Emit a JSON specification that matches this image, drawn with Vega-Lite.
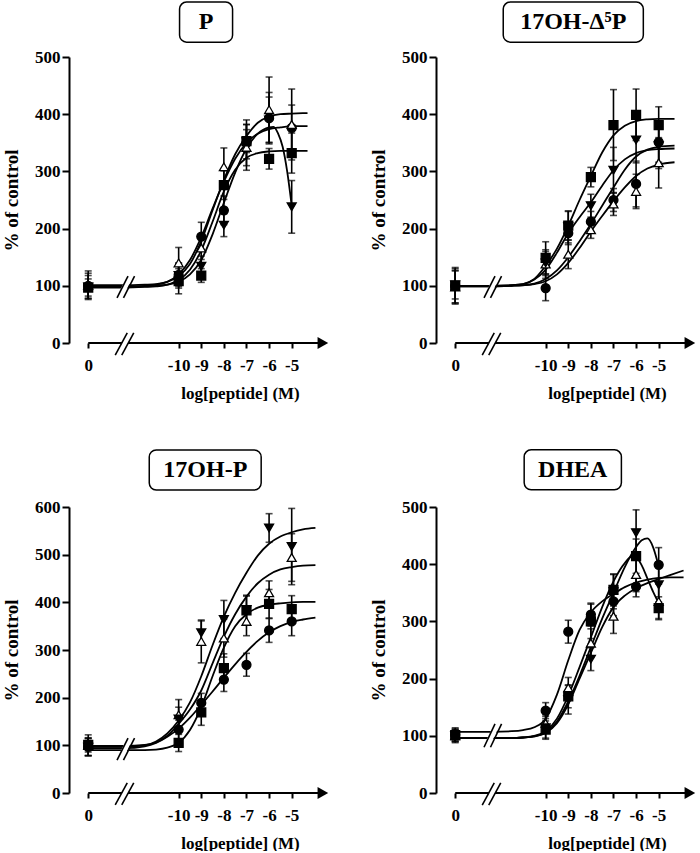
{
"$schema":"https://vega.github.io/schema/vega-lite/v6.json",
"padding":{"left":2,"top":1,"right":0,"bottom":0},
"background":"white",
"datasets":{
"pts":[
{"p":"P","s":"circle","x":-14,"v":100,"e":22},{"p":"P","s":"triangle","x":-14,"v":101,"e":25},{"p":"P","s":"invtri","x":-14,"v":98,"e":20},{"p":"P","s":"square","x":-14,"v":97,"e":15},
{"p":"P","s":"circle","x":-10,"v":119,"e":20},{"p":"P","s":"triangle","x":-10,"v":140,"e":27},{"p":"P","s":"invtri","x":-10,"v":118,"e":22},{"p":"P","s":"square","x":-10,"v":108,"e":22},
{"p":"P","s":"circle","x":-9,"v":186,"e":25},{"p":"P","s":"triangle","x":-9,"v":166,"e":20},{"p":"P","s":"invtri","x":-9,"v":134,"e":18},{"p":"P","s":"square","x":-9,"v":118,"e":12},
{"p":"P","s":"circle","x":-8,"v":232,"e":25},{"p":"P","s":"triangle","x":-8,"v":308,"e":33},{"p":"P","s":"invtri","x":-8,"v":206,"e":20},{"p":"P","s":"square","x":-8,"v":276,"e":25},
{"p":"P","s":"circle","x":-7,"v":350,"e":40},{"p":"P","s":"triangle","x":-7,"v":342,"e":40},{"p":"P","s":"invtri","x":-7,"v":352,"e":30},{"p":"P","s":"square","x":-7,"v":353,"e":20},
{"p":"P","s":"circle","x":-6,"v":393,"e":45},{"p":"P","s":"triangle","x":-6,"v":408,"e":57},{"p":"P","s":"invtri","x":-6,"v":390,"e":40},{"p":"P","s":"square","x":-6,"v":322,"e":18},
{"p":"P","s":"circle","x":-5,"v":376,"e":40},{"p":"P","s":"triangle","x":-5,"v":382,"e":62},{"p":"P","s":"invtri","x":-5,"v":238,"e":46},{"p":"P","s":"square","x":-5,"v":332,"e":35},
{"p":"D","s":"circle","x":-14,"v":100,"e":32},{"p":"D","s":"triangle","x":-14,"v":98,"e":28},{"p":"D","s":"invtri","x":-14,"v":102,"e":25},{"p":"D","s":"square","x":-14,"v":100,"e":30},
{"p":"D","s":"circle","x":-10,"v":96,"e":22},{"p":"D","s":"triangle","x":-10,"v":138,"e":25},{"p":"D","s":"invtri","x":-10,"v":140,"e":20},{"p":"D","s":"square","x":-10,"v":149,"e":28},
{"p":"D","s":"circle","x":-9,"v":192,"e":20},{"p":"D","s":"triangle","x":-9,"v":155,"e":25},{"p":"D","s":"invtri","x":-9,"v":203,"e":28},{"p":"D","s":"square","x":-9,"v":205,"e":25},
{"p":"D","s":"circle","x":-8,"v":212,"e":18},{"p":"D","s":"triangle","x":-8,"v":198,"e":15},{"p":"D","s":"invtri","x":-8,"v":240,"e":20},{"p":"D","s":"square","x":-8,"v":290,"e":17},
{"p":"D","s":"circle","x":-7,"v":250,"e":20},{"p":"D","s":"triangle","x":-7,"v":243,"e":20},{"p":"D","s":"invtri","x":-7,"v":302,"e":40},{"p":"D","s":"square","x":-7,"v":381,"e":62},
{"p":"D","s":"circle","x":-6,"v":278,"e":40},{"p":"D","s":"triangle","x":-6,"v":265,"e":30},{"p":"D","s":"invtri","x":-6,"v":355,"e":40},{"p":"D","s":"square","x":-6,"v":399,"e":45},
{"p":"D","s":"circle","x":-5,"v":351,"e":35},{"p":"D","s":"triangle","x":-5,"v":315,"e":44},{"p":"D","s":"invtri","x":-5,"v":345,"e":40},{"p":"D","s":"square","x":-5,"v":381,"e":32},
{"p":"O","s":"circle","x":-14,"v":97,"e":18},{"p":"O","s":"triangle","x":-14,"v":100,"e":22},{"p":"O","s":"invtri","x":-14,"v":96,"e":18},{"p":"O","s":"square","x":-14,"v":101,"e":15},
{"p":"O","s":"circle","x":-10,"v":133,"e":20},{"p":"O","s":"triangle","x":-10,"v":164,"e":32},{"p":"O","s":"invtri","x":-10,"v":155,"e":25},{"p":"O","s":"square","x":-10,"v":105,"e":18},
{"p":"O","s":"circle","x":-9,"v":189,"e":20},{"p":"O","s":"triangle","x":-9,"v":318,"e":45},{"p":"O","s":"invtri","x":-9,"v":336,"e":25},{"p":"O","s":"square","x":-9,"v":169,"e":27},
{"p":"O","s":"circle","x":-8,"v":238,"e":25},{"p":"O","s":"triangle","x":-8,"v":325,"e":40},{"p":"O","s":"invtri","x":-8,"v":364,"e":40},{"p":"O","s":"square","x":-8,"v":262,"e":30},
{"p":"O","s":"circle","x":-7,"v":269,"e":24},{"p":"O","s":"triangle","x":-7,"v":360,"e":30},{"p":"O","s":"invtri","x":-7,"v":385,"e":30},{"p":"O","s":"square","x":-7,"v":383,"e":30},
{"p":"O","s":"circle","x":-6,"v":341,"e":25},{"p":"O","s":"triangle","x":-6,"v":420,"e":25},{"p":"O","s":"invtri","x":-6,"v":556,"e":30},{"p":"O","s":"square","x":-6,"v":397,"e":30},
{"p":"O","s":"circle","x":-5,"v":360,"e":30},{"p":"O","s":"triangle","x":-5,"v":494,"e":50},{"p":"O","s":"invtri","x":-5,"v":517,"e":80},{"p":"O","s":"square","x":-5,"v":386,"e":28},
{"p":"H","s":"circle","x":-14,"v":102,"e":12},{"p":"H","s":"triangle","x":-14,"v":100,"e":10},{"p":"H","s":"invtri","x":-14,"v":100,"e":12},{"p":"H","s":"square","x":-14,"v":101,"e":10},
{"p":"H","s":"circle","x":-10,"v":144,"e":14},{"p":"H","s":"triangle","x":-10,"v":122,"e":15},{"p":"H","s":"invtri","x":-10,"v":114,"e":20},{"p":"H","s":"square","x":-10,"v":111,"e":15},
{"p":"H","s":"circle","x":-9,"v":282,"e":20},{"p":"H","s":"triangle","x":-9,"v":184,"e":18},{"p":"H","s":"invtri","x":-9,"v":163,"e":25},{"p":"H","s":"square","x":-9,"v":169,"e":20},
{"p":"H","s":"circle","x":-8,"v":312,"e":20},{"p":"H","s":"triangle","x":-8,"v":262,"e":25},{"p":"H","s":"invtri","x":-8,"v":234,"e":20},{"p":"H","s":"square","x":-8,"v":300,"e":30},
{"p":"H","s":"circle","x":-7,"v":335,"e":25},{"p":"H","s":"triangle","x":-7,"v":309,"e":30},{"p":"H","s":"invtri","x":-7,"v":352,"e":30},{"p":"H","s":"square","x":-7,"v":355,"e":28},
{"p":"H","s":"circle","x":-6,"v":361,"e":18},{"p":"H","s":"triangle","x":-6,"v":382,"e":30},{"p":"H","s":"invtri","x":-6,"v":455,"e":40},{"p":"H","s":"square","x":-6,"v":414,"e":30},
{"p":"H","s":"circle","x":-5,"v":399,"e":30},{"p":"H","s":"triangle","x":-5,"v":335,"e":30},{"p":"H","s":"invtri","x":-5,"v":364,"e":30},{"p":"H","s":"square","x":-5,"v":323,"e":20}
],
"crv":[
{"p":"P","s":"triangle","x":-14,"v":101},{"p":"P","s":"triangle","x":-12.4,"v":101},{"p":"P","s":"triangle","x":-11.5,"v":102},{"p":"P","s":"triangle","x":-11,"v":103},{"p":"P","s":"triangle","x":-10.5,"v":107},{"p":"P","s":"triangle","x":-10,"v":117},{"p":"P","s":"triangle","x":-9.5,"v":138},{"p":"P","s":"triangle","x":-9,"v":178},{"p":"P","s":"triangle","x":-8.5,"v":232},{"p":"P","s":"triangle","x":-8,"v":285},{"p":"P","s":"triangle","x":-7.5,"v":330},{"p":"P","s":"triangle","x":-7,"v":362},{"p":"P","s":"triangle","x":-6.5,"v":385},{"p":"P","s":"triangle","x":-6,"v":396},{"p":"P","s":"triangle","x":-5.5,"v":400},{"p":"P","s":"triangle","x":-5,"v":401},{"p":"P","s":"triangle","x":-4.3,"v":402},
{"p":"P","s":"circle","x":-14,"v":99},{"p":"P","s":"circle","x":-12.4,"v":99},{"p":"P","s":"circle","x":-11.5,"v":100},{"p":"P","s":"circle","x":-11,"v":102},{"p":"P","s":"circle","x":-10.5,"v":107},{"p":"P","s":"circle","x":-10,"v":120},{"p":"P","s":"circle","x":-9.5,"v":145},{"p":"P","s":"circle","x":-9,"v":185},{"p":"P","s":"circle","x":-8.5,"v":235},{"p":"P","s":"circle","x":-8,"v":282},{"p":"P","s":"circle","x":-7.5,"v":322},{"p":"P","s":"circle","x":-7,"v":350},{"p":"P","s":"circle","x":-6.5,"v":366},{"p":"P","s":"circle","x":-6,"v":374},{"p":"P","s":"circle","x":-5.5,"v":377},{"p":"P","s":"circle","x":-5,"v":379},{"p":"P","s":"circle","x":-4.3,"v":379},
{"p":"P","s":"square","x":-14,"v":97},{"p":"P","s":"square","x":-12.4,"v":97},{"p":"P","s":"square","x":-11.5,"v":98},{"p":"P","s":"square","x":-11,"v":99},{"p":"P","s":"square","x":-10.5,"v":102},{"p":"P","s":"square","x":-10,"v":110},{"p":"P","s":"square","x":-9.5,"v":128},{"p":"P","s":"square","x":-9,"v":162},{"p":"P","s":"square","x":-8.5,"v":212},{"p":"P","s":"square","x":-8,"v":265},{"p":"P","s":"square","x":-7.5,"v":303},{"p":"P","s":"square","x":-7,"v":324},{"p":"P","s":"square","x":-6.5,"v":332},{"p":"P","s":"square","x":-6,"v":335},{"p":"P","s":"square","x":-5.5,"v":336},{"p":"P","s":"square","x":-5,"v":336},{"p":"P","s":"square","x":-4.3,"v":336},
{"p":"P","s":"invtri","x":-14,"v":98},{"p":"P","s":"invtri","x":-12.4,"v":98},{"p":"P","s":"invtri","x":-11.5,"v":99},{"p":"P","s":"invtri","x":-11,"v":100},{"p":"P","s":"invtri","x":-10.5,"v":102},{"p":"P","s":"invtri","x":-10,"v":107},{"p":"P","s":"invtri","x":-9.5,"v":120},{"p":"P","s":"invtri","x":-9,"v":145},{"p":"P","s":"invtri","x":-8.5,"v":190},{"p":"P","s":"invtri","x":-8,"v":245},{"p":"P","s":"invtri","x":-7.5,"v":298},{"p":"P","s":"invtri","x":-7,"v":340},{"p":"P","s":"invtri","x":-6.5,"v":366},{"p":"P","s":"invtri","x":-6,"v":377},{"p":"P","s":"invtri","x":-5.8,"v":378},{"p":"P","s":"invtri","x":-5.6,"v":366},{"p":"P","s":"invtri","x":-5.4,"v":343},{"p":"P","s":"invtri","x":-5.2,"v":300},{"p":"P","s":"invtri","x":-5,"v":240},
{"p":"D","s":"square","x":-14,"v":100},{"p":"D","s":"square","x":-12.4,"v":100},{"p":"D","s":"square","x":-11.5,"v":101},{"p":"D","s":"square","x":-11,"v":103},{"p":"D","s":"square","x":-10.5,"v":112},{"p":"D","s":"square","x":-10,"v":135},{"p":"D","s":"square","x":-9.5,"v":165},{"p":"D","s":"square","x":-9,"v":205},{"p":"D","s":"square","x":-8.5,"v":250},{"p":"D","s":"square","x":-8,"v":292},{"p":"D","s":"square","x":-7.5,"v":333},{"p":"D","s":"square","x":-7,"v":363},{"p":"D","s":"square","x":-6.5,"v":380},{"p":"D","s":"square","x":-6,"v":388},{"p":"D","s":"square","x":-5.5,"v":391},{"p":"D","s":"square","x":-5,"v":392},{"p":"D","s":"square","x":-4.3,"v":392},
{"p":"D","s":"invtri","x":-14,"v":100},{"p":"D","s":"invtri","x":-12.4,"v":100},{"p":"D","s":"invtri","x":-11.5,"v":101},{"p":"D","s":"invtri","x":-11,"v":103},{"p":"D","s":"invtri","x":-10.5,"v":111},{"p":"D","s":"invtri","x":-10,"v":128},{"p":"D","s":"invtri","x":-9.5,"v":158},{"p":"D","s":"invtri","x":-9,"v":192},{"p":"D","s":"invtri","x":-8.5,"v":220},{"p":"D","s":"invtri","x":-8,"v":246},{"p":"D","s":"invtri","x":-7.5,"v":275},{"p":"D","s":"invtri","x":-7,"v":302},{"p":"D","s":"invtri","x":-6.5,"v":321},{"p":"D","s":"invtri","x":-6,"v":332},{"p":"D","s":"invtri","x":-5.5,"v":337},{"p":"D","s":"invtri","x":-5,"v":339},{"p":"D","s":"invtri","x":-4.3,"v":340},
{"p":"D","s":"circle","x":-14,"v":99},{"p":"D","s":"circle","x":-12.4,"v":99},{"p":"D","s":"circle","x":-11.5,"v":100},{"p":"D","s":"circle","x":-11,"v":101},{"p":"D","s":"circle","x":-10.5,"v":104},{"p":"D","s":"circle","x":-10,"v":112},{"p":"D","s":"circle","x":-9.5,"v":127},{"p":"D","s":"circle","x":-9,"v":150},{"p":"D","s":"circle","x":-8.5,"v":178},{"p":"D","s":"circle","x":-8,"v":208},{"p":"D","s":"circle","x":-7.5,"v":240},{"p":"D","s":"circle","x":-7,"v":272},{"p":"D","s":"circle","x":-6.5,"v":303},{"p":"D","s":"circle","x":-6,"v":326},{"p":"D","s":"circle","x":-5.5,"v":338},{"p":"D","s":"circle","x":-5,"v":343},{"p":"D","s":"circle","x":-4.3,"v":345},
{"p":"D","s":"triangle","x":-14,"v":99},{"p":"D","s":"triangle","x":-12.4,"v":99},{"p":"D","s":"triangle","x":-11.5,"v":100},{"p":"D","s":"triangle","x":-11,"v":101},{"p":"D","s":"triangle","x":-10.5,"v":103},{"p":"D","s":"triangle","x":-10,"v":108},{"p":"D","s":"triangle","x":-9.5,"v":120},{"p":"D","s":"triangle","x":-9,"v":140},{"p":"D","s":"triangle","x":-8.5,"v":166},{"p":"D","s":"triangle","x":-8,"v":195},{"p":"D","s":"triangle","x":-7.5,"v":222},{"p":"D","s":"triangle","x":-7,"v":248},{"p":"D","s":"triangle","x":-6.5,"v":272},{"p":"D","s":"triangle","x":-6,"v":292},{"p":"D","s":"triangle","x":-5.5,"v":305},{"p":"D","s":"triangle","x":-5,"v":312},{"p":"D","s":"triangle","x":-4.3,"v":316},
{"p":"O","s":"invtri","x":-14,"v":97},{"p":"O","s":"invtri","x":-12.4,"v":97},{"p":"O","s":"invtri","x":-11.5,"v":100},{"p":"O","s":"invtri","x":-11,"v":108},{"p":"O","s":"invtri","x":-10.5,"v":125},{"p":"O","s":"invtri","x":-10,"v":152},{"p":"O","s":"invtri","x":-9.5,"v":190},{"p":"O","s":"invtri","x":-9,"v":245},{"p":"O","s":"invtri","x":-8.5,"v":310},{"p":"O","s":"invtri","x":-8,"v":370},{"p":"O","s":"invtri","x":-7.5,"v":420},{"p":"O","s":"invtri","x":-7,"v":462},{"p":"O","s":"invtri","x":-6.5,"v":498},{"p":"O","s":"invtri","x":-6,"v":523},{"p":"O","s":"invtri","x":-5.5,"v":538},{"p":"O","s":"invtri","x":-5,"v":547},{"p":"O","s":"invtri","x":-4.5,"v":553},{"p":"O","s":"invtri","x":-3.95,"v":556},
{"p":"O","s":"triangle","x":-14,"v":99},{"p":"O","s":"triangle","x":-12.4,"v":99},{"p":"O","s":"triangle","x":-11.5,"v":101},{"p":"O","s":"triangle","x":-11,"v":106},{"p":"O","s":"triangle","x":-10.5,"v":120},{"p":"O","s":"triangle","x":-10,"v":145},{"p":"O","s":"triangle","x":-9.5,"v":175},{"p":"O","s":"triangle","x":-9,"v":215},{"p":"O","s":"triangle","x":-8.5,"v":272},{"p":"O","s":"triangle","x":-8,"v":328},{"p":"O","s":"triangle","x":-7.5,"v":375},{"p":"O","s":"triangle","x":-7,"v":412},{"p":"O","s":"triangle","x":-6.5,"v":440},{"p":"O","s":"triangle","x":-6,"v":458},{"p":"O","s":"triangle","x":-5.5,"v":469},{"p":"O","s":"triangle","x":-5,"v":474},{"p":"O","s":"triangle","x":-4.5,"v":477},{"p":"O","s":"triangle","x":-3.95,"v":478},
{"p":"O","s":"square","x":-14,"v":90},{"p":"O","s":"square","x":-12.4,"v":90},{"p":"O","s":"square","x":-11.5,"v":90},{"p":"O","s":"square","x":-11,"v":91},{"p":"O","s":"square","x":-10.5,"v":95},{"p":"O","s":"square","x":-10,"v":105},{"p":"O","s":"square","x":-9.5,"v":132},{"p":"O","s":"square","x":-9,"v":180},{"p":"O","s":"square","x":-8.5,"v":245},{"p":"O","s":"square","x":-8,"v":305},{"p":"O","s":"square","x":-7.5,"v":350},{"p":"O","s":"square","x":-7,"v":375},{"p":"O","s":"square","x":-6.5,"v":389},{"p":"O","s":"square","x":-6,"v":395},{"p":"O","s":"square","x":-5.5,"v":398},{"p":"O","s":"square","x":-5,"v":400},{"p":"O","s":"square","x":-4.5,"v":401},{"p":"O","s":"square","x":-3.95,"v":401},
{"p":"O","s":"circle","x":-14,"v":94},{"p":"O","s":"circle","x":-12.4,"v":94},{"p":"O","s":"circle","x":-11.5,"v":98},{"p":"O","s":"circle","x":-11,"v":105},{"p":"O","s":"circle","x":-10.5,"v":118},{"p":"O","s":"circle","x":-10,"v":135},{"p":"O","s":"circle","x":-9.5,"v":158},{"p":"O","s":"circle","x":-9,"v":185},{"p":"O","s":"circle","x":-8.5,"v":213},{"p":"O","s":"circle","x":-8,"v":242},{"p":"O","s":"circle","x":-7.5,"v":270},{"p":"O","s":"circle","x":-7,"v":296},{"p":"O","s":"circle","x":-6.5,"v":319},{"p":"O","s":"circle","x":-6,"v":337},{"p":"O","s":"circle","x":-5.5,"v":350},{"p":"O","s":"circle","x":-5,"v":359},{"p":"O","s":"circle","x":-4.5,"v":364},{"p":"O","s":"circle","x":-3.95,"v":368},
{"p":"H","s":"circle","x":-14,"v":107},{"p":"H","s":"circle","x":-12.4,"v":107},{"p":"H","s":"circle","x":-11.5,"v":108},{"p":"H","s":"circle","x":-11,"v":110},{"p":"H","s":"circle","x":-10.5,"v":115},{"p":"H","s":"circle","x":-10,"v":130},{"p":"H","s":"circle","x":-9.5,"v":172},{"p":"H","s":"circle","x":-9,"v":232},{"p":"H","s":"circle","x":-8.5,"v":285},{"p":"H","s":"circle","x":-8,"v":316},{"p":"H","s":"circle","x":-7.5,"v":335},{"p":"H","s":"circle","x":-7,"v":348},{"p":"H","s":"circle","x":-6.5,"v":360},{"p":"H","s":"circle","x":-6,"v":368},{"p":"H","s":"circle","x":-5.5,"v":373},{"p":"H","s":"circle","x":-5,"v":376},{"p":"H","s":"circle","x":-4.5,"v":377},{"p":"H","s":"circle","x":-3.9,"v":377},
{"p":"H","s":"triangle","x":-14,"v":96},{"p":"H","s":"triangle","x":-12.4,"v":96},{"p":"H","s":"triangle","x":-11.5,"v":96},{"p":"H","s":"triangle","x":-11,"v":97},{"p":"H","s":"triangle","x":-10.5,"v":99},{"p":"H","s":"triangle","x":-10,"v":105},{"p":"H","s":"triangle","x":-9.5,"v":122},{"p":"H","s":"triangle","x":-9,"v":155},{"p":"H","s":"triangle","x":-8.5,"v":200},{"p":"H","s":"triangle","x":-8,"v":245},{"p":"H","s":"triangle","x":-7.5,"v":290},{"p":"H","s":"triangle","x":-7,"v":325},{"p":"H","s":"triangle","x":-6.5,"v":345},{"p":"H","s":"triangle","x":-6,"v":358},{"p":"H","s":"triangle","x":-5.5,"v":367},{"p":"H","s":"triangle","x":-5,"v":374},{"p":"H","s":"triangle","x":-4.5,"v":381},{"p":"H","s":"triangle","x":-3.9,"v":389},
{"p":"H","s":"invtri","x":-14,"v":96},{"p":"H","s":"invtri","x":-12.4,"v":96},{"p":"H","s":"invtri","x":-11.5,"v":96},{"p":"H","s":"invtri","x":-11,"v":97},{"p":"H","s":"invtri","x":-10.5,"v":99},{"p":"H","s":"invtri","x":-10,"v":106},{"p":"H","s":"invtri","x":-9.5,"v":125},{"p":"H","s":"invtri","x":-9,"v":160},{"p":"H","s":"invtri","x":-8.5,"v":205},{"p":"H","s":"invtri","x":-8,"v":255},{"p":"H","s":"invtri","x":-7.5,"v":305},{"p":"H","s":"invtri","x":-7,"v":350},{"p":"H","s":"invtri","x":-6.5,"v":395},{"p":"H","s":"invtri","x":-6,"v":430},{"p":"H","s":"invtri","x":-5.75,"v":442},{"p":"H","s":"invtri","x":-5.5,"v":445},{"p":"H","s":"invtri","x":-5.25,"v":430},{"p":"H","s":"invtri","x":-5,"v":396},
{"p":"H","s":"square","x":-14,"v":96},{"p":"H","s":"square","x":-12.4,"v":96},{"p":"H","s":"square","x":-11.5,"v":96},{"p":"H","s":"square","x":-11,"v":97},{"p":"H","s":"square","x":-10.5,"v":100},{"p":"H","s":"square","x":-10,"v":108},{"p":"H","s":"square","x":-9.5,"v":130},{"p":"H","s":"square","x":-9,"v":170},{"p":"H","s":"square","x":-8.5,"v":220},{"p":"H","s":"square","x":-8,"v":272},{"p":"H","s":"square","x":-7.5,"v":325},{"p":"H","s":"square","x":-7,"v":370},{"p":"H","s":"square","x":-6.5,"v":402},{"p":"H","s":"square","x":-6.2,"v":413},{"p":"H","s":"square","x":-6,"v":412},{"p":"H","s":"square","x":-5.75,"v":398},{"p":"H","s":"square","x":-5.5,"v":375},{"p":"H","s":"square","x":-5.25,"v":352},{"p":"H","s":"square","x":-5,"v":332}
]
},
"columns":2,
"spacing":{"row":164,"column":107},
"bounds":"flush",
"concat":[
{"width":260,"height":286,"layer":[
{"data":{"name":"crv"},"transform":[{"filter":"datum.p == 'P'"}],"mark":{"type":"line","color":"black","strokeWidth":1.8,"interpolate":"monotone"},"encoding":{"x":{"field":"x","type":"quantitative","title":"log[peptide] (M)","scale":{"domain":[-14.85,-3.35],"nice":false,"zero":false},"axis":{"values":[-14,-10,-9,-8,-7,-6,-5],"labelExpr":"datum.value == -14 ? '0' : '' + datum.value","domain":false,"tickSize":5,"labelPadding":9,"labelFlush":false,"labelOverlap":false,"titleFontSize":17,"titleX":171,"titleY":50,"titleAlign":"center","titleBaseline":"middle"}},"y":{"field":"v","type":"quantitative","title":"% of control","scale":{"domain":[0,500],"nice":false,"zero":false},"axis":{"values":[0,50,100,150,200,250,300,350,400,450,500],"labelExpr":"datum.value % 100 == 0 ? datum.label : ''","tickSize":7,"labelPadding":2,"titleFontSize":19,"titleX":-58,"titleY":143,"titleAngle":-90,"titleAlign":"center","titleBaseline":"middle"}},"detail":{"field":"s"}}},
{"data":{"values":[{}]},"mark":{"type":"rule","color":"black","strokeWidth":2},"encoding":{"x":{"datum":-14},"x2":{"datum":-3.75},"y":{"datum":0}}},
{"data":{"values":[{}]},"mark":{"type":"point","shape":"triangle-right","filled":true,"color":"black","size":150,"opacity":1},"encoding":{"x":{"datum":-3.62},"y":{"datum":0}}},
{"data":{"values":[{}]},"mark":{"type":"rule","color":"white","strokeWidth":5.5},"encoding":{"x":{"datum":-12.518},"x2":{"datum":-12.226},"y":{"datum":-10.5},"y2":{"datum":10.5}}},
{"data":{"values":[{}]},"mark":{"type":"rule","color":"white","strokeWidth":5.5},"encoding":{"x":{"datum":-12.582},"x2":{"datum":-12.184},"y":{"datum":82},"y2":{"datum":114}}},
{"data":{"values":[{}]},"mark":{"type":"rule","color":"black","strokeWidth":1.6},"encoding":{"x":{"datum":-12.805},"x2":{"datum":-12.274},"y":{"datum":-21},"y2":{"datum":17.5}}},
{"data":{"values":[{}]},"mark":{"type":"rule","color":"black","strokeWidth":1.6},"encoding":{"x":{"datum":-12.517},"x2":{"datum":-11.986},"y":{"datum":-21},"y2":{"datum":17.5}}},
{"data":{"values":[{}]},"mark":{"type":"rule","color":"black","strokeWidth":1.6},"encoding":{"x":{"datum":-12.726},"x2":{"datum":-12.24},"y":{"datum":79},"y2":{"datum":117}}},
{"data":{"values":[{}]},"mark":{"type":"rule","color":"black","strokeWidth":1.6},"encoding":{"x":{"datum":-12.44},"x2":{"datum":-11.95},"y":{"datum":79},"y2":{"datum":117}}},
{"data":{"name":"pts"},"transform":[{"filter":"datum.p == 'P'"}],"mark":{"type":"errorbar","ticks":{"size":7,"thickness":1.6},"rule":{"strokeWidth":1.6},"color":"black"},"encoding":{"x":{"field":"x","type":"quantitative","title":"log[peptide] (M)"},"y":{"field":"v","type":"quantitative","title":"% of control"},"yError":{"field":"e"}}},
{"data":{"name":"pts"},"transform":[{"filter":"datum.p == 'P'"}],"mark":{"type":"point","filled":true,"size":80,"stroke":"black","strokeWidth":1.3,"opacity":1},"encoding":{"x":{"field":"x","type":"quantitative","title":"log[peptide] (M)"},"y":{"field":"v","type":"quantitative","title":"% of control"},"shape":{"field":"s","type":"nominal","scale":{"domain":["circle","triangle","invtri","square"],"range":["circle","triangle-up","triangle-down","square"]},"legend":null},"fill":{"field":"s","type":"nominal","scale":{"domain":["circle","triangle","invtri","square"],"range":["black","white","black","black"]},"legend":null}}},
{"data":{"values":[{}]},"mark":{"type":"rect","fill":"white","stroke":"black","strokeWidth":1.5,"cornerRadius":7},"encoding":{"x":{"datum":-9.96},"x2":{"datum":-7.615},"y":{"datum":526},"y2":{"datum":596}}},
{"data":{"values":[{}]},"mark":{"type":"text","text":"P","font":"Liberation Serif","fontWeight":"bold","fontSize":24,"baseline":"middle","align":"center","color":"black"},"encoding":{"x":{"datum":-8.79},"y":{"datum":561}}}
]},
{"width":260,"height":286,"layer":[
{"data":{"name":"crv"},"transform":[{"filter":"datum.p == 'D'"}],"mark":{"type":"line","color":"black","strokeWidth":1.8,"interpolate":"monotone"},"encoding":{"x":{"field":"x","type":"quantitative","title":"log[peptide] (M)","scale":{"domain":[-14.85,-3.35],"nice":false,"zero":false},"axis":{"values":[-14,-10,-9,-8,-7,-6,-5],"labelExpr":"datum.value == -14 ? '0' : '' + datum.value","domain":false,"tickSize":5,"labelPadding":9,"labelFlush":false,"labelOverlap":false,"titleFontSize":17,"titleX":171,"titleY":50,"titleAlign":"center","titleBaseline":"middle"}},"y":{"field":"v","type":"quantitative","title":"% of control","scale":{"domain":[0,500],"nice":false,"zero":false},"axis":{"values":[0,50,100,150,200,250,300,350,400,450,500],"labelExpr":"datum.value % 100 == 0 ? datum.label : ''","tickSize":7,"labelPadding":2,"titleFontSize":19,"titleX":-58,"titleY":143,"titleAngle":-90,"titleAlign":"center","titleBaseline":"middle"}},"detail":{"field":"s"}}},
{"data":{"values":[{}]},"mark":{"type":"rule","color":"black","strokeWidth":2},"encoding":{"x":{"datum":-14},"x2":{"datum":-3.75},"y":{"datum":0}}},
{"data":{"values":[{}]},"mark":{"type":"point","shape":"triangle-right","filled":true,"color":"black","size":150,"opacity":1},"encoding":{"x":{"datum":-3.62},"y":{"datum":0}}},
{"data":{"values":[{}]},"mark":{"type":"rule","color":"white","strokeWidth":5.5},"encoding":{"x":{"datum":-12.518},"x2":{"datum":-12.226},"y":{"datum":-10.5},"y2":{"datum":10.5}}},
{"data":{"values":[{}]},"mark":{"type":"rule","color":"white","strokeWidth":5.5},"encoding":{"x":{"datum":-12.582},"x2":{"datum":-12.184},"y":{"datum":82},"y2":{"datum":114}}},
{"data":{"values":[{}]},"mark":{"type":"rule","color":"black","strokeWidth":1.6},"encoding":{"x":{"datum":-12.805},"x2":{"datum":-12.274},"y":{"datum":-21},"y2":{"datum":17.5}}},
{"data":{"values":[{}]},"mark":{"type":"rule","color":"black","strokeWidth":1.6},"encoding":{"x":{"datum":-12.517},"x2":{"datum":-11.986},"y":{"datum":-21},"y2":{"datum":17.5}}},
{"data":{"values":[{}]},"mark":{"type":"rule","color":"black","strokeWidth":1.6},"encoding":{"x":{"datum":-12.726},"x2":{"datum":-12.24},"y":{"datum":79},"y2":{"datum":117}}},
{"data":{"values":[{}]},"mark":{"type":"rule","color":"black","strokeWidth":1.6},"encoding":{"x":{"datum":-12.44},"x2":{"datum":-11.95},"y":{"datum":79},"y2":{"datum":117}}},
{"data":{"name":"pts"},"transform":[{"filter":"datum.p == 'D'"}],"mark":{"type":"errorbar","ticks":{"size":7,"thickness":1.6},"rule":{"strokeWidth":1.6},"color":"black"},"encoding":{"x":{"field":"x","type":"quantitative","title":"log[peptide] (M)"},"y":{"field":"v","type":"quantitative","title":"% of control"},"yError":{"field":"e"}}},
{"data":{"name":"pts"},"transform":[{"filter":"datum.p == 'D'"}],"mark":{"type":"point","filled":true,"size":80,"stroke":"black","strokeWidth":1.3,"opacity":1},"encoding":{"x":{"field":"x","type":"quantitative","title":"log[peptide] (M)"},"y":{"field":"v","type":"quantitative","title":"% of control"},"shape":{"field":"s","type":"nominal","scale":{"domain":["circle","triangle","invtri","square"],"range":["circle","triangle-up","triangle-down","square"]},"legend":null},"fill":{"field":"s","type":"nominal","scale":{"domain":["circle","triangle","invtri","square"],"range":["black","white","black","black"]},"legend":null}}},
{"data":{"values":[{}]},"mark":{"type":"rect","fill":"white","stroke":"black","strokeWidth":1.5,"cornerRadius":7},"encoding":{"x":{"datum":-11.876},"x2":{"datum":-5.68},"y":{"datum":526},"y2":{"datum":596}}},
{"data":{"values":[{}]},"mark":{"type":"text","text":"17OH-Δ⁵P","font":"Liberation Serif","fontWeight":"bold","fontSize":24,"baseline":"middle","align":"center","color":"black"},"encoding":{"x":{"datum":-8.78},"y":{"datum":561}}}
]},
{"width":260,"height":286,"layer":[
{"data":{"name":"crv"},"transform":[{"filter":"datum.p == 'O'"}],"mark":{"type":"line","color":"black","strokeWidth":1.8,"interpolate":"monotone"},"encoding":{"x":{"field":"x","type":"quantitative","title":"log[peptide] (M)","scale":{"domain":[-14.85,-3.35],"nice":false,"zero":false},"axis":{"values":[-14,-10,-9,-8,-7,-6,-5],"labelExpr":"datum.value == -14 ? '0' : '' + datum.value","domain":false,"tickSize":5,"labelPadding":9,"labelFlush":false,"labelOverlap":false,"titleFontSize":17,"titleX":171,"titleY":50,"titleAlign":"center","titleBaseline":"middle"}},"y":{"field":"v","type":"quantitative","title":"% of control","scale":{"domain":[0,600],"nice":false,"zero":false},"axis":{"values":[0,50,100,150,200,250,300,350,400,450,500,550,600],"labelExpr":"datum.value % 100 == 0 ? datum.label : ''","tickSize":7,"labelPadding":2,"titleFontSize":19,"titleX":-58,"titleY":143,"titleAngle":-90,"titleAlign":"center","titleBaseline":"middle"}},"detail":{"field":"s"}}},
{"data":{"values":[{}]},"mark":{"type":"rule","color":"black","strokeWidth":2},"encoding":{"x":{"datum":-14},"x2":{"datum":-3.75},"y":{"datum":0}}},
{"data":{"values":[{}]},"mark":{"type":"point","shape":"triangle-right","filled":true,"color":"black","size":150,"opacity":1},"encoding":{"x":{"datum":-3.62},"y":{"datum":0}}},
{"data":{"values":[{}]},"mark":{"type":"rule","color":"white","strokeWidth":5.5},"encoding":{"x":{"datum":-12.518},"x2":{"datum":-12.226},"y":{"datum":-12.6},"y2":{"datum":12.6}}},
{"data":{"values":[{}]},"mark":{"type":"rule","color":"white","strokeWidth":5.5},"encoding":{"x":{"datum":-12.582},"x2":{"datum":-12.184},"y":{"datum":73},"y2":{"datum":111}}},
{"data":{"values":[{}]},"mark":{"type":"rule","color":"black","strokeWidth":1.6},"encoding":{"x":{"datum":-12.805},"x2":{"datum":-12.274},"y":{"datum":-25},"y2":{"datum":21}}},
{"data":{"values":[{}]},"mark":{"type":"rule","color":"black","strokeWidth":1.6},"encoding":{"x":{"datum":-12.517},"x2":{"datum":-11.986},"y":{"datum":-25},"y2":{"datum":21}}},
{"data":{"values":[{}]},"mark":{"type":"rule","color":"black","strokeWidth":1.6},"encoding":{"x":{"datum":-12.726},"x2":{"datum":-12.24},"y":{"datum":69},"y2":{"datum":115}}},
{"data":{"values":[{}]},"mark":{"type":"rule","color":"black","strokeWidth":1.6},"encoding":{"x":{"datum":-12.44},"x2":{"datum":-11.95},"y":{"datum":69},"y2":{"datum":115}}},
{"data":{"name":"pts"},"transform":[{"filter":"datum.p == 'O'"}],"mark":{"type":"errorbar","ticks":{"size":7,"thickness":1.6},"rule":{"strokeWidth":1.6},"color":"black"},"encoding":{"x":{"field":"x","type":"quantitative","title":"log[peptide] (M)"},"y":{"field":"v","type":"quantitative","title":"% of control"},"yError":{"field":"e"}}},
{"data":{"name":"pts"},"transform":[{"filter":"datum.p == 'O'"}],"mark":{"type":"point","filled":true,"size":80,"stroke":"black","strokeWidth":1.3,"opacity":1},"encoding":{"x":{"field":"x","type":"quantitative","title":"log[peptide] (M)"},"y":{"field":"v","type":"quantitative","title":"% of control"},"shape":{"field":"s","type":"nominal","scale":{"domain":["circle","triangle","invtri","square"],"range":["circle","triangle-up","triangle-down","square"]},"legend":null},"fill":{"field":"s","type":"nominal","scale":{"domain":["circle","triangle","invtri","square"],"range":["black","white","black","black"]},"legend":null}}},
{"data":{"values":[{}]},"mark":{"type":"rect","fill":"white","stroke":"black","strokeWidth":1.5,"cornerRadius":7},"encoding":{"x":{"datum":-11.3},"x2":{"datum":-6.35},"y":{"datum":635.6},"y2":{"datum":719.5}}},
{"data":{"values":[{}]},"mark":{"type":"text","text":"17OH-P","font":"Liberation Serif","fontWeight":"bold","fontSize":24,"baseline":"middle","align":"center","color":"black"},"encoding":{"x":{"datum":-8.82},"y":{"datum":677.6}}}
]},
{"width":260,"height":286,"layer":[
{"data":{"name":"crv"},"transform":[{"filter":"datum.p == 'H'"}],"mark":{"type":"line","color":"black","strokeWidth":1.8,"interpolate":"monotone"},"encoding":{"x":{"field":"x","type":"quantitative","title":"log[peptide] (M)","scale":{"domain":[-14.85,-3.35],"nice":false,"zero":false},"axis":{"values":[-14,-10,-9,-8,-7,-6,-5],"labelExpr":"datum.value == -14 ? '0' : '' + datum.value","domain":false,"tickSize":5,"labelPadding":9,"labelFlush":false,"labelOverlap":false,"titleFontSize":17,"titleX":171,"titleY":50,"titleAlign":"center","titleBaseline":"middle"}},"y":{"field":"v","type":"quantitative","title":"% of control","scale":{"domain":[0,500],"nice":false,"zero":false},"axis":{"values":[0,50,100,150,200,250,300,350,400,450,500],"labelExpr":"datum.value % 100 == 0 ? datum.label : ''","tickSize":7,"labelPadding":2,"titleFontSize":19,"titleX":-58,"titleY":143,"titleAngle":-90,"titleAlign":"center","titleBaseline":"middle"}},"detail":{"field":"s"}}},
{"data":{"values":[{}]},"mark":{"type":"rule","color":"black","strokeWidth":2},"encoding":{"x":{"datum":-14},"x2":{"datum":-3.75},"y":{"datum":0}}},
{"data":{"values":[{}]},"mark":{"type":"point","shape":"triangle-right","filled":true,"color":"black","size":150,"opacity":1},"encoding":{"x":{"datum":-3.62},"y":{"datum":0}}},
{"data":{"values":[{}]},"mark":{"type":"rule","color":"white","strokeWidth":5.5},"encoding":{"x":{"datum":-12.518},"x2":{"datum":-12.226},"y":{"datum":-10.5},"y2":{"datum":10.5}}},
{"data":{"values":[{}]},"mark":{"type":"rule","color":"white","strokeWidth":5.5},"encoding":{"x":{"datum":-12.582},"x2":{"datum":-12.184},"y":{"datum":84},"y2":{"datum":117}}},
{"data":{"values":[{}]},"mark":{"type":"rule","color":"black","strokeWidth":1.6},"encoding":{"x":{"datum":-12.805},"x2":{"datum":-12.274},"y":{"datum":-21},"y2":{"datum":17.5}}},
{"data":{"values":[{}]},"mark":{"type":"rule","color":"black","strokeWidth":1.6},"encoding":{"x":{"datum":-12.517},"x2":{"datum":-11.986},"y":{"datum":-21},"y2":{"datum":17.5}}},
{"data":{"values":[{}]},"mark":{"type":"rule","color":"black","strokeWidth":1.6},"encoding":{"x":{"datum":-12.726},"x2":{"datum":-12.24},"y":{"datum":80},"y2":{"datum":121}}},
{"data":{"values":[{}]},"mark":{"type":"rule","color":"black","strokeWidth":1.6},"encoding":{"x":{"datum":-12.44},"x2":{"datum":-11.95},"y":{"datum":80},"y2":{"datum":121}}},
{"data":{"name":"pts"},"transform":[{"filter":"datum.p == 'H'"}],"mark":{"type":"errorbar","ticks":{"size":7,"thickness":1.6},"rule":{"strokeWidth":1.6},"color":"black"},"encoding":{"x":{"field":"x","type":"quantitative","title":"log[peptide] (M)"},"y":{"field":"v","type":"quantitative","title":"% of control"},"yError":{"field":"e"}}},
{"data":{"name":"pts"},"transform":[{"filter":"datum.p == 'H'"}],"mark":{"type":"point","filled":true,"size":80,"stroke":"black","strokeWidth":1.3,"opacity":1},"encoding":{"x":{"field":"x","type":"quantitative","title":"log[peptide] (M)"},"y":{"field":"v","type":"quantitative","title":"% of control"},"shape":{"field":"s","type":"nominal","scale":{"domain":["circle","triangle","invtri","square"],"range":["circle","triangle-up","triangle-down","square"]},"legend":null},"fill":{"field":"s","type":"nominal","scale":{"domain":["circle","triangle","invtri","square"],"range":["black","white","black","black"]},"legend":null}}},
{"data":{"values":[{}]},"mark":{"type":"rect","fill":"white","stroke":"black","strokeWidth":1.5,"cornerRadius":7},"encoding":{"x":{"datum":-10.95},"x2":{"datum":-6.65},"y":{"datum":530},"y2":{"datum":600}}},
{"data":{"values":[{}]},"mark":{"type":"text","text":"DHEA","font":"Liberation Serif","fontWeight":"bold","fontSize":24,"baseline":"middle","align":"center","color":"black"},"encoding":{"x":{"datum":-8.8},"y":{"datum":565}}}
]}
],
"config":{
"font":"Liberation Serif",
"view":{"stroke":null},
"axis":{"grid":false,"labelFont":"Liberation Serif","labelFontWeight":"bold","labelFontSize":17,"labelColor":"black","titleFont":"Liberation Serif","titleFontWeight":"bold","titleColor":"black","tickColor":"black","domainColor":"black","tickWidth":2,"domainWidth":2}
}
}
